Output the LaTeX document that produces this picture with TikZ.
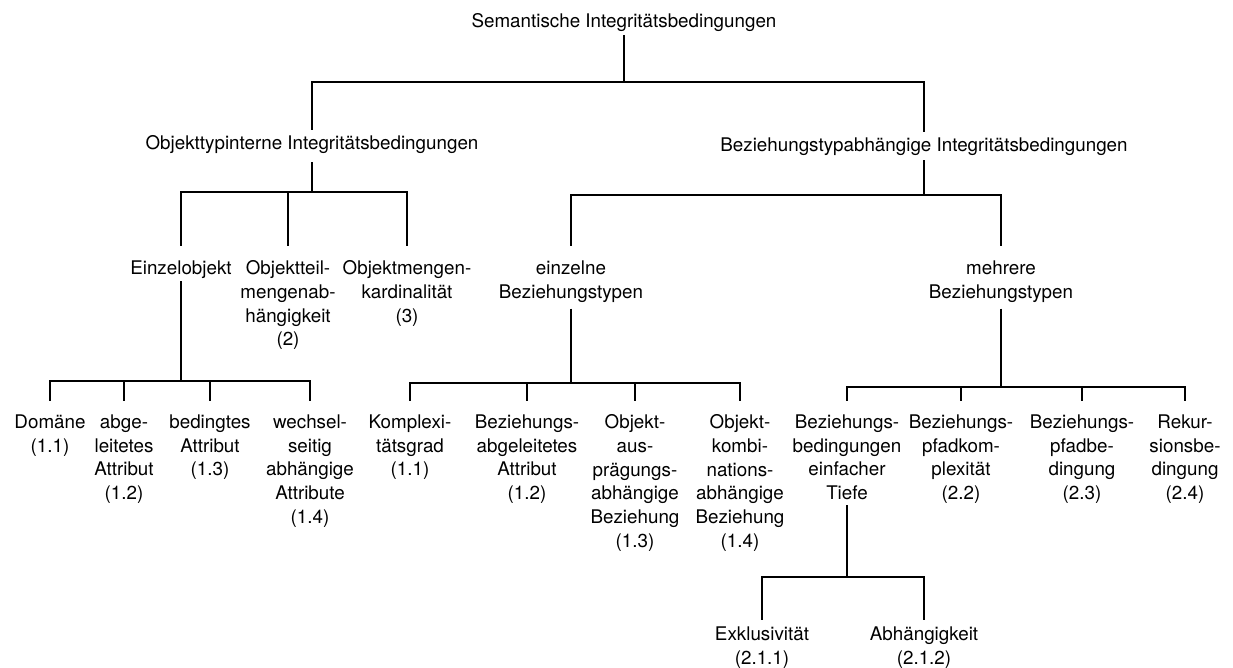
\documentclass[tikz,border=0pt]{standalone}
\usepackage{fontspec}
\setmainfont{TeX Gyre Heros}

\begin{document}
\begin{tikzpicture}[x=0.5pt, y=-0.5pt, line width=0.6pt,
    every node/.style={inner sep=0pt, anchor=north, align=center,
      font=\fontsize{9.4}{11.85}\selectfont}]
  \useasboundingbox (0,0) rectangle (1233,668); % page = 1233 x 668 px

  % bus heights of the tree
  \coordinate (bus0) at (0,82);
  \coordinate (busobj) at (0,192);
  \coordinate (busbez) at (0,195);
  \coordinate (busein) at (0,381);
  \coordinate (buseinz) at (0,383);
  \coordinate (busmehr) at (0,387);
  \coordinate (bustiefe) at (0,577);

  \node (root) at (624,13) {Semantische Integritätsbedingungen};
  \node (obj) at (312,135) {Objekttypinterne Integritätsbedingungen};
  \node (bez) at (924,137) {Beziehungstypabhängige Integritätsbedingungen};

  \node (einzelobj) at (181,260) {Einzelobjekt};
  \node (teilmenge) at (288,260) {Objektteil-\\mengenab-\\hängigkeit\\(2)};
  \node (kardinal) at (407,260) {Objektmengen-\\kardinalität\\(3)};
  \node (einzeln) at (571,260) {einzelne\\Beziehungstypen};
  \node (mehrere) at (1001,260) {mehrere\\Beziehungstypen};

  \node (dom) at (50,414) {Domäne\\(1.1)};
  \node (abgel) at (124,414) {abge-\\leitetes\\Attribut\\(1.2)};
  \node (beding) at (210,414) {bedingtes\\Attribut\\(1.3)};
  \node (wechsel) at (310,414) {wechsel-\\seitig\\abhängige\\Attribute\\(1.4)};
  \node (kompl) at (410,414) {Komplexi-\\tätsgrad\\(1.1)};
  \node (bezabg) at (527,414) {Beziehungs-\\abgeleitetes\\Attribut\\(1.2)};
  \node (auspr) at (635,414) {Objekt-\\aus-\\prägungs-\\abhängige\\Beziehung\\(1.3)};
  \node (kombi) at (740,414) {Objekt-\\kombi-\\nations-\\abhängige\\Beziehung\\(1.4)};
  \node (bbed) at (847,414) {Beziehungs-\\bedingungen\\einfacher\\Tiefe};
  \node (pfadk) at (961,414) {Beziehungs-\\pfadkom-\\plexität\\(2.2)};
  \node (pfadb) at (1082,414) {Beziehungs-\\pfadbe-\\dingung\\(2.3)};
  \node (rekur) at (1185,414) {Rekur-\\sionsbe-\\dingung\\(2.4)};

  \node (exkl) at (762,626) {Exklusivität\\(2.1.1)};
  \node (abh) at (924,626) {Abhängigkeit\\(2.1.2)};

  % connectors: parent -> bus -> child
  \draw ([yshift=-1.5pt]root.south) -- (root.south |- bus0);
  \foreach \c in {obj,bez}
    \draw (root.south |- bus0) -| ([yshift=2.5pt]\c.north);

  \draw ([yshift=-4pt]obj.south) -- (obj.south |- busobj);
  \foreach \c in {einzelobj,teilmenge,kardinal}
    \draw (obj.south |- busobj) -| ([yshift=7pt]\c.north);

  \draw ([yshift=-2pt]bez.south) -- (bez.south |- busbez);
  \foreach \c in {einzeln,mehrere}
    \draw (bez.south |- busbez) -| ([yshift=7pt]\c.north);

  \draw ([yshift=-1pt]einzelobj.south) -- (einzelobj.south |- busein);
  \foreach \c in {dom,abgel,beding,wechsel}
    \draw (einzelobj.south |- busein) -| ([yshift=6.5pt]\c.north);

  \draw ([yshift=-3pt]einzeln.south) -- (einzeln.south |- buseinz);
  \foreach \c in {kompl,bezabg,auspr,kombi}
    \draw (einzeln.south |- buseinz) -| ([yshift=6.5pt]\c.north);

  \draw ([yshift=-3pt]mehrere.south) -- (mehrere.south |- busmehr);
  \foreach \c in {bbed,pfadk,pfadb,rekur}
    \draw (mehrere.south |- busmehr) -| ([yshift=6.5pt]\c.north);

  \draw ([yshift=-2.5pt]bbed.south) -- (bbed.south |- bustiefe);
  \foreach \c in {exkl,abh}
    \draw (bbed.south |- bustiefe) -| ([yshift=3pt]\c.north);
\end{tikzpicture}
\end{document}
